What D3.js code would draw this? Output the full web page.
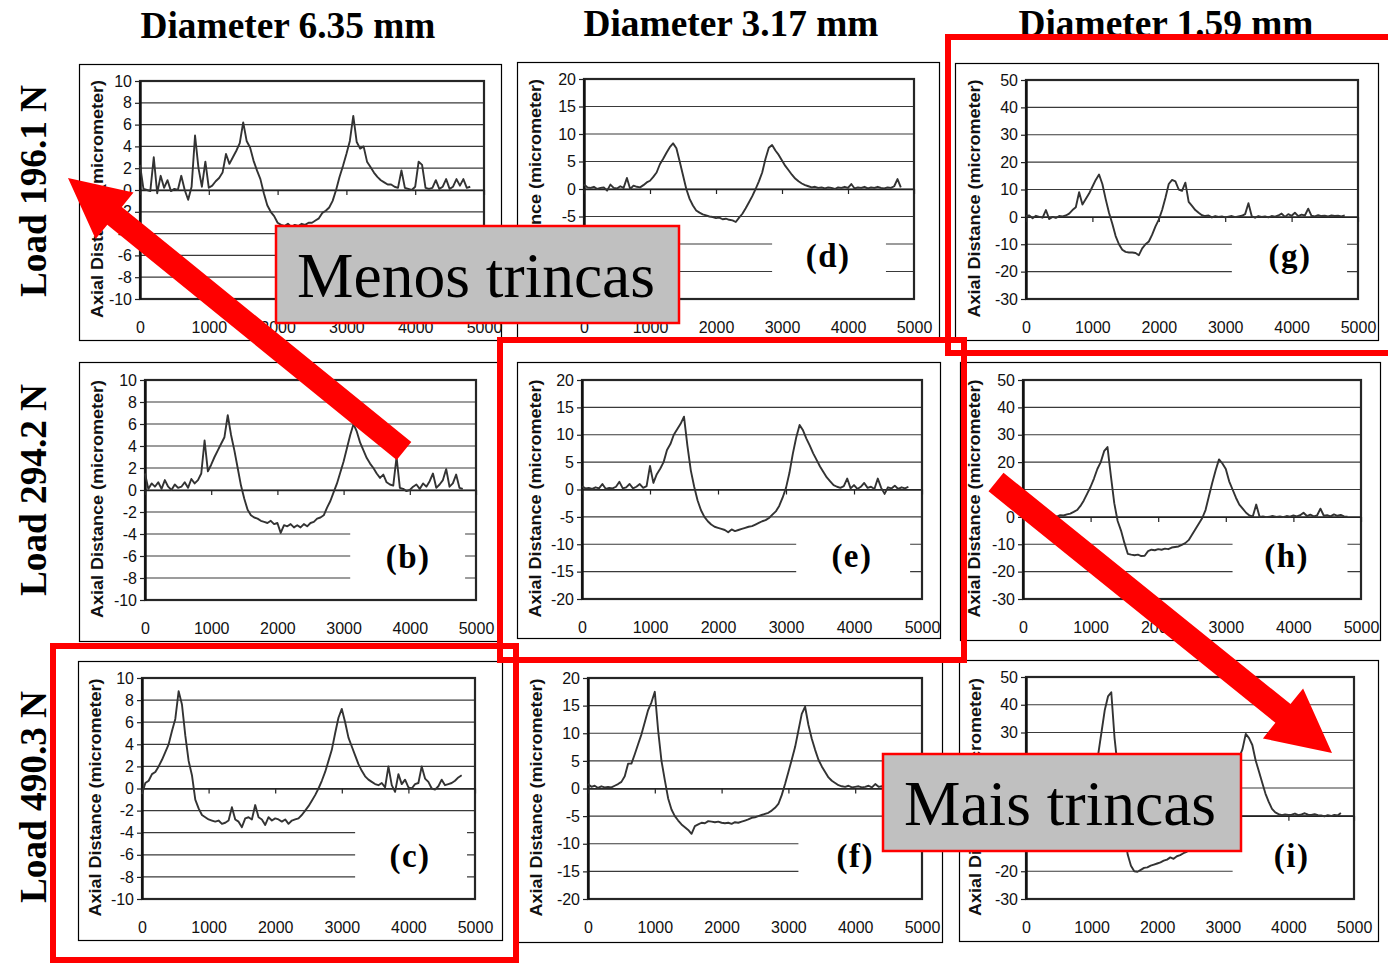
<!DOCTYPE html>
<html>
<head>
<meta charset="utf-8">
<script src="https://cdn.jsdelivr.net/npm/d3@7"></script>
<style>
  body { margin: 0; background: #fff; }
  svg { display: block; }
</style>
</head>
<body>
<svg id="fig" width="1388" height="963"></svg>
<script>
// ---------------------------------------------------------------------------
// Axial distance profiles measured along the specimen (micrometer)
// rows: applied load, columns: diameter
// ---------------------------------------------------------------------------
const diameters = ["Diameter 6.35 mm", "Diameter 3.17 mm", "Diameter 1.59 mm"];
const loads = ["Load 196.1 N", "Load 294.2 N", "Load 490.3 N"];

const xTicks = [0, 1000, 2000, 3000, 4000, 5000];
const yTicksLarge = [-10, -8, -6, -4, -2, 0, 2, 4, 6, 8, 10];
const yTicksMedium = [-20, -15, -10, -5, 0, 5, 10, 15, 20];
const yTicksSmall = [-30, -20, -10, 0, 10, 20, 30, 40, 50];

// sampling positions along the profile
const positions = [
  0, 50, 100, 150, 200, 250, 300, 350, 400, 450,
  500, 550, 600, 650, 700, 750, 800, 850, 900, 950,
  1000, 1050, 1100, 1150, 1200, 1250, 1300, 1350, 1400, 1450,
  1500, 1550, 1600, 1650, 1700, 1750, 1800, 1850, 1900, 1950,
  2000, 2050, 2100, 2150, 2200, 2250, 2300, 2350, 2400, 2450,
  2500, 2550, 2600, 2650, 2700, 2750, 2800, 2850, 2900, 2950,
  3000, 3050, 3100, 3150, 3200, 3250, 3300, 3350, 3400, 3450,
  3500, 3550, 3600, 3650, 3700, 3750, 3800, 3850, 3900, 3950,
  4000, 4050, 4100, 4150, 4200, 4250, 4300, 4350, 4400, 4450,
  4500, 4550, 4600, 4650, 4700, 4750, 4800
];

// (a) 6.35 mm, 196.1 N
const profileA = [
  2.3, 0.1, 0.0, -0.1, 3.0, -0.3, 1.3, 0.2, 0.9, -0.1,
  0.1, 0.0, 1.3, 0.0, -0.9, 0.3, 5.0, 2.0, 0.3, 2.6,
  0.2, 0.4, 0.8, 1.1, 1.6, 3.3, 2.4, 3.0, 3.6, 4.3,
  6.2, 4.5, 3.9, 2.7, 1.8, 1.0, -0.3, -1.4, -2.0, -2.4,
  -3.0, -3.2, -3.3, -3.1, -3.4, -3.2, -3.3, -3.1, -3.2, -3.0,
  -3.0, -2.8, -2.6, -2.1, -1.9, -1.6, -1.0, 0.0, 1.2, 2.2,
  3.3, 4.5, 6.8, 4.4, 3.8, 4.0, 2.6, 2.1, 1.6, 1.2,
  0.9, 0.7, 0.5, 0.5, 0.3, 0.2, 1.8, 0.2, 0.1, 0.0,
  0.3, 2.6, 2.3, 0.2, 0.1, 0.2, 0.9, 0.1, 0.3, 1.0,
  0.1, 0.3, 1.0, 0.4, 1.0, 0.2, 0.3
];
// (b) 6.35 mm, 294.2 N
const profileB = [
  1.5, 0.1, 0.6, 0.3, 0.7, 0.1, 0.9, 0.3, 0.0, 0.5,
  0.2, 0.3, 0.7, 0.2, 1.0, 0.6, 0.9, 1.5, 4.5, 1.7,
  2.3, 3.0, 3.6, 4.2, 4.8, 6.8, 5.0, 3.6, 2.0, 0.4,
  -0.8, -1.8, -2.3, -2.5, -2.6, -2.8, -2.9, -3.0, -2.8, -3.1,
  -3.0, -3.9, -3.2, -3.3, -3.1, -3.4, -3.2, -3.4, -3.1, -3.3,
  -3.0, -2.9, -2.6, -2.5, -2.3, -1.6, -1.0, -0.2, 0.6, 1.6,
  2.6, 3.8, 5.0, 6.0, 5.3, 4.3, 3.6, 2.9, 2.4, 2.0,
  1.5, 1.1, 1.4, 0.7, 0.5, 0.4, 3.0, 0.2, 0.1, -0.1,
  0.0, 0.3, 0.5, 0.1, 0.6, 0.3, 0.8, 1.5, 0.2, 0.5,
  0.9, 1.9, 0.3, 0.6, 1.4, 0.2, 0.1
];
// (c) 6.35 mm, 490.3 N
const profileC = [
  -0.5, 0.5, 0.7, 1.3, 1.5, 2.0, 2.6, 3.3, 4.0, 5.2,
  6.3, 8.8, 7.6, 4.8, 2.5, 1.2, -1.0, -1.8, -2.4, -2.6,
  -2.8, -2.9, -3.0, -2.9, -3.2, -3.1, -2.9, -1.7, -2.8, -3.0,
  -3.5, -2.7, -2.6, -2.8, -1.5, -2.6, -2.8, -3.3, -2.6, -2.9,
  -2.7, -2.8, -3.0, -2.8, -3.2, -2.9, -2.8, -2.7, -2.4, -2.0,
  -1.6, -1.1, -0.6, 0.0, 0.7, 1.5, 2.5, 3.5, 5.0, 6.4,
  7.2, 6.0, 4.6, 3.8, 3.0, 2.2, 1.6, 1.1, 0.8, 0.6,
  0.4, 0.3, 0.5, 0.1, 2.0, 0.3, -0.3, 1.3, 0.4, 0.8,
  0.1, 0.0, 0.4, 0.5, 2.0, 0.9, 0.6, 0.0, -0.1, 0.2,
  0.8, 0.3, 0.4, 0.5, 0.7, 1.0, 1.2
];
// (d) 3.17 mm, 196.1 N
const profileD = [
  0.8, 0.3, 0.2, 0.4, 0.0, 0.2, 0.3, -0.3, 0.8, 0.2,
  0.1, 0.5, 0.2, 2.0, 0.0, 0.6, 0.4, 0.3, 0.7, 1.2,
  1.5, 2.2, 3.0, 4.5, 5.5, 6.6, 7.6, 8.3, 7.4, 5.0,
  2.5, 0.0, -1.8, -3.0, -3.9, -4.3, -4.6, -4.8, -5.0, -5.1,
  -5.3, -5.2, -5.5, -5.4, -5.6, -5.7, -6.0, -5.2, -4.5, -3.5,
  -2.4, -1.3, 0.0, 1.4, 3.0, 5.5, 7.5, 8.0, 7.0, 6.2,
  5.2, 4.2, 3.4, 2.6, 1.9, 1.4, 1.0, 0.7, 0.5, 0.3,
  0.4, 0.2, 0.3, 0.1, 0.3, 0.2, 0.0, 0.3, 0.2, 0.4,
  0.2, 0.9, 0.1, 0.3, 0.2, 0.4, 0.1, 0.3, 0.2, 0.4,
  0.2, 0.1, 0.3, 0.2, 0.5, 1.8, 0.3
];
// (e) 3.17 mm, 294.2 N
const profileE = [
  0.6, 0.2, 0.3, 0.1, 0.4, 0.2, 1.0, 0.1, 0.3, 0.2,
  0.5, 1.4, 0.2, 0.4, 1.0, 0.2, 0.5, 1.0, 0.3, 0.6,
  4.3, 1.2, 2.8, 3.8, 5.0, 7.2, 8.3, 10.0, 11.0, 12.0,
  13.3, 8.0, 3.5, 0.5, -2.0, -3.8, -5.0, -5.8, -6.4, -6.8,
  -7.0, -7.2, -7.4, -7.8, -7.3, -7.6, -7.4, -7.2, -7.0, -6.8,
  -6.7, -6.4, -6.1, -5.8, -5.6, -5.2, -4.6, -4.0, -3.0, -1.5,
  0.3, 3.0, 6.5, 9.5, 11.8, 10.8, 9.3, 8.0, 6.6, 5.4,
  4.2, 3.2, 2.2, 1.5, 0.8, 0.5, 0.3, 0.6, 2.0, 0.2,
  0.8, 0.1, 0.5, 1.2, 0.3, 0.5, 0.1, 2.0, 0.3, -0.8,
  0.4, 0.2, 0.7, 0.1, 0.4, 0.2, 0.5
];
// (f) 3.17 mm, 490.3 N
const profileF = [
  0.8, 0.3, 0.5, 0.1, 0.4, 0.2, 0.3, 0.2, 0.5, 0.8,
  1.2, 2.2, 4.5, 4.5, 6.2, 8.0, 9.8, 12.0, 14.2, 15.6,
  17.5, 10.5, 5.0, 1.5, -1.8, -3.8, -5.0, -5.8, -6.5, -7.0,
  -7.5, -8.2, -6.8, -6.5, -6.2, -6.3, -5.9, -6.0, -6.1, -6.0,
  -6.2, -6.3, -6.2, -6.4, -6.1, -6.2, -6.0, -5.8, -5.6, -5.3,
  -5.2, -5.0, -4.8, -4.6, -4.4, -4.0, -3.5, -2.8, -1.2, 0.8,
  3.0, 5.2, 7.5, 10.5, 13.5, 14.8, 11.5, 9.0, 7.0, 5.2,
  4.0, 3.0, 2.0, 1.4, 1.0, 0.6, 0.4, 0.3, 0.5, 0.2,
  0.3, 0.4, 0.2, 0.3, 0.5, 0.2, 0.8, 0.3, 0.4, 0.2,
  0.3, 0.4, 0.2, 0.3, 0.3, 0.2, 0.3
];
// (g) 1.59 mm, 196.1 N
const profileG = [
  0.3, 0.5, -0.5, 0.4, 0.0, -0.3, 2.5, -0.8, 0.0, -0.4,
  0.3, 0.2, 0.5, 1.2, 2.5, 3.5, 9.0, 4.5, 6.5, 8.5,
  11.0, 13.5, 15.5, 12.0, 6.5, 1.5, -2.5, -7.0, -10.0, -12.0,
  -12.8, -13.0, -13.0, -13.2, -14.0, -11.5, -10.0, -9.0, -6.5, -3.5,
  -1.0, 2.5, 7.0, 12.0, 13.5, 13.0, 10.0, 9.5, 12.5, 5.5,
  4.0, 2.5, 1.5, 0.6, 0.3, 0.5, -0.2, 0.3, 0.0, 0.2,
  -0.2, 0.1, 0.3, -0.1, 0.2, 0.4, 1.0, 5.0, 0.2, -0.3,
  0.3, 0.0, 0.2, -0.2, 0.3, 0.1, 0.5, 1.2, 0.0, 1.0,
  0.4, 1.5, 0.3, 0.8, 0.5, 3.0, 0.4, 0.2, 0.6, 0.3,
  0.4, 0.2, 0.5, 0.3, 0.4, 0.2, 0.5
];
// (h) 1.59 mm, 294.2 N
const profileH = [
  0.2, -0.3, 0.3, 0.0, 0.4, -0.2, 0.3, 0.0, 0.2, 0.4,
  0.1, 0.6, 0.5, 0.9, 1.2, 1.8, 2.5, 4.0, 6.0, 8.5,
  11.0, 14.0, 17.5, 20.0, 24.0, 25.5, 15.0, 5.0, -1.5, -5.0,
  -9.5, -13.5, -13.8, -14.0, -13.8, -14.3, -14.2, -12.5, -12.0, -12.2,
  -11.8, -12.0, -11.6, -11.8, -11.2, -11.0, -10.8, -10.2, -9.6, -8.5,
  -6.5, -4.5, -2.5, -0.5, 2.5, 7.5, 12.5, 17.0, 21.0, 19.5,
  17.5, 13.0, 10.0, 7.0, 4.5, 3.0, 1.5, 0.5, 0.2, 4.5,
  0.0, 0.2, -0.1, 0.1, 0.3, 0.0, 0.2, -0.1, 0.3, 0.1,
  0.5, 0.2, 0.6, 1.5, 0.3, 0.8, 0.2, 0.5, 3.0, 0.4,
  0.6, 0.2, 0.9, 0.4, 0.7, 0.2, 0.1
];
// (i) 1.59 mm, 490.3 N
const profileI = [
  0.3, 0.0, 0.4, 0.2, 0.5, 0.1, 0.4, 0.3, 0.6, 0.4,
  0.8, 1.0, 1.5, 2.2, 3.0, 4.5, 6.0, 8.0, 10.5, 13.0,
  16.0, 19.0, 22.0, 30.0, 38.0, 43.0, 44.5, 28.0, 17.0, 5.0,
  -6.0, -14.0, -18.0, -20.0, -20.2, -19.5, -18.8, -18.6, -18.0, -17.6,
  -17.2, -16.8, -16.2, -15.8, -15.0, -15.5, -14.6, -14.2, -13.5, -13.0,
  -12.2, -11.4, -10.5, -9.5, -8.5, -7.2, -6.0, -4.5, -3.0, -1.0,
  1.5, 5.0, 9.0, 13.5, 17.5, 21.0, 24.0, 29.5, 28.0, 25.5,
  20.0, 16.0, 12.0, 8.0, 5.0, 2.5, 1.2, 0.6, 0.2, 0.5,
  0.3, 0.4, 0.8, 0.2, 0.5, 0.9, 0.4, 0.3, 0.6, 0.2,
  0.1, -0.2, 0.2, -0.1, 0.3, 0.1, 1.0
];

const panelTags = ["(a)", "(b)", "(c)", "(d)", "(e)", "(f)", "(g)", "(h)", "(i)"];
const panelProfiles = [profileA, profileB, profileC, profileD, profileE, profileF, profileG, profileH, profileI];
const columnTicks = [yTicksLarge, yTicksMedium, yTicksSmall];

const calloutFewer = "Menos trincas";
const calloutMore = "Mais trincas";
const axisTitle = "Axial Distance (micrometer)";

// ---------------------------------------------------------------------------
// Page layout (pixels) for each panel: outer frame, plot area, y-title gap,
// tag box [left, right, text centre] as fractions of the plot width
// ---------------------------------------------------------------------------
const layout = [
  { box: [79, 64, 501, 340],   plot: [140, 484, 81, 299],   gap: 37, tagBox: [0.62, 0.97, 0.80] },
  { box: [79, 362, 500, 641],  plot: [145, 476, 380, 600],  gap: 42, tagBox: [0.62, 0.967, 0.795] },
  { box: [78, 661, 502, 940],  plot: [142, 475, 678, 899],  gap: 41, tagBox: [0.64, 0.976, 0.805] },
  { box: [517, 62, 939, 340],  plot: [584, 914, 79, 299],   gap: 43, tagBox: [0.57, 0.915, 0.74] },
  { box: [517, 362, 940, 638], plot: [582, 922, 380, 599],  gap: 41, tagBox: [0.63, 0.965, 0.794] },
  { box: [517, 660, 942, 942], plot: [588, 922, 678, 899],  gap: 46, tagBox: [0.63, 1.0, 0.80] },
  { box: [955, 63, 1378, 340], plot: [1026, 1358, 80, 299], gap: 46, tagBox: [0.62, 0.967, 0.795] },
  { box: [960, 362, 1380, 640],plot: [1023, 1361, 380, 599],gap: 43, tagBox: [0.62, 0.96, 0.78] },
  { box: [959, 660, 1378, 941],plot: [1026, 1354, 677, 899],gap: 45, tagBox: [0.63, 0.997, 0.81] }
];

const SANS = "'Liberation Sans', Arial, sans-serif";
const SERIF = "'Liberation Serif', 'Times New Roman', serif";

const svg = d3.select("#fig");
svg.append("rect").attr("width", 1388).attr("height", 963).attr("fill", "#fff");

function drawPanel(idx) {
  const lay = layout[idx];
  const col = Math.floor(idx / 3);
  const ticks = columnTicks[col];
  const values = panelProfiles[idx];
  const [bx0, by0, bx1, by1] = lay.box;
  const [px0, px1, py0, py1] = lay.plot;
  const W = px1 - px0, H = py1 - py0;

  const x = d3.scaleLinear().domain([xTicks[0], xTicks[xTicks.length - 1]]).range([px0, px1]);
  const y = d3.scaleLinear().domain(d3.extent(ticks)).range([py1, py0]);

  const g = svg.append("g").attr("class", "panel");

  // chart frame
  g.append("rect")
    .attr("x", bx0 + 0.5).attr("y", by0 + 0.5)
    .attr("width", bx1 - bx0).attr("height", by1 - by0)
    .attr("fill", "#fff").attr("stroke", "#000").attr("stroke-width", 1.2);

  // horizontal gridlines
  g.append("g").selectAll("line").data(ticks).join("line")
    .attr("x1", px0).attr("x2", px1)
    .attr("y1", d => y(d)).attr("y2", d => y(d))
    .attr("stroke", "#3a3a3a").attr("stroke-width", 1.2);

  // panel tag on a white patch
  const [tl, tr, tc] = lay.tagBox;
  g.append("rect")
    .attr("x", px0 + tl * W).attr("y", py0 + 0.665 * H)
    .attr("width", (tr - tl) * W).attr("height", 0.3 * H)
    .attr("fill", "#fff");
  g.append("text")
    .attr("x", px0 + tc * W).attr("y", py0 + 0.855 * H)
    .attr("text-anchor", "middle")
    .attr("font-family", SERIF).attr("font-weight", "bold")
    .attr("font-size", 33).attr("letter-spacing", 1.5)
    .attr("fill", "#000")
    .text(panelTags[idx]);

  // plot-area border
  g.append("rect")
    .attr("x", px0).attr("y", py0).attr("width", W).attr("height", H)
    .attr("fill", "none").attr("stroke", "#262626").attr("stroke-width", 2.2);

  // y axis
  const yAxis = d3.axisLeft(y).tickValues(ticks).tickSize(5).tickSizeOuter(0)
    .tickPadding(3).tickFormat(d => String(d));
  const ya = g.append("g").attr("transform", `translate(${px0},0)`).call(yAxis);
  ya.attr("font-family", null).attr("font-size", null);
  ya.select(".domain").attr("stroke", "#111").attr("stroke-width", 2.4);
  ya.selectAll(".tick line").attr("stroke", "#222").attr("stroke-width", 1.2);
  ya.selectAll(".tick text").attr("font-family", SANS).attr("font-size", 16).attr("fill", "#111");

  // axis line at zero with tick marks
  const zeroAxis = d3.axisBottom(x).tickValues(xTicks).tickSize(5).tickSizeOuter(0).tickFormat("");
  const za = g.append("g").attr("transform", `translate(0,${y(0)})`).call(zeroAxis);
  za.select(".domain").attr("stroke", "#222").attr("stroke-width", 1.4);
  za.selectAll(".tick line").attr("stroke", "#222").attr("stroke-width", 1.2);

  // x tick labels under the plot area
  const xLabels = d3.axisBottom(x).tickValues(xTicks).tickSize(0).tickPadding(22.6).tickFormat(d => String(d));
  const xl = g.append("g").attr("transform", `translate(0,${py1})`).call(xLabels);
  xl.attr("font-family", null).attr("font-size", null);
  xl.select(".domain").remove();
  xl.selectAll(".tick text").attr("font-family", SANS).attr("font-size", 16).attr("fill", "#111");

  // y title
  g.append("text")
    .attr("transform", `translate(${px0 - lay.gap},${(py0 + py1) / 2 + 9}) rotate(-90)`)
    .attr("text-anchor", "middle")
    .attr("font-family", SANS).attr("font-weight", "bold").attr("font-size", 16)
    .attr("textLength", 238).attr("lengthAdjust", "spacingAndGlyphs")
    .attr("fill", "#111")
    .text(axisTitle);

  // measured profile
  const line = d3.line()
    .x((d, i) => x(positions[i]))
    .y(d => y(d));
  g.append("path")
    .datum(values)
    .attr("d", line)
    .attr("fill", "none")
    .attr("stroke", "#333")
    .attr("stroke-width", 1.9)
    .attr("stroke-linejoin", "round");
}

for (let i = 0; i < 9; i++) drawPanel(i);

// column headers
const headerX = [288, 731, 1166];
const headerY = [38, 36, 36];
svg.selectAll("text.colhead").data(diameters).join("text")
  .attr("class", "colhead")
  .attr("x", (d, i) => headerX[i]).attr("y", (d, i) => headerY[i])
  .attr("text-anchor", "middle")
  .attr("font-family", SERIF).attr("font-weight", "bold").attr("font-size", 37)
  .attr("textLength", 295).attr("lengthAdjust", "spacingAndGlyphs")
  .attr("fill", "#000")
  .text(d => d);

// row headers
const rowY = [191, 490, 797];
svg.selectAll("text.rowhead").data(loads).join("text")
  .attr("class", "rowhead")
  .attr("transform", (d, i) => `translate(46,${rowY[i]}) rotate(-90)`)
  .attr("text-anchor", "middle")
  .attr("font-family", SERIF).attr("font-weight", "bold").attr("font-size", 37)
  .attr("textLength", 212).attr("lengthAdjust", "spacingAndGlyphs")
  .attr("fill", "#000")
  .text(d => d);

// red highlight frames
const RED = "#ff0000";
const frames = [
  [948, 37, 1396, 353],
  [500, 340, 964, 660],
  [53, 646, 516, 960]
];
svg.selectAll("rect.frame").data(frames).join("rect")
  .attr("class", "frame")
  .attr("x", d => d[0]).attr("y", d => d[1])
  .attr("width", d => d[2] - d[0]).attr("height", d => d[3] - d[1])
  .attr("fill", "none").attr("stroke", RED).attr("stroke-width", 6);

// block arrows
function arrowPath(tip, tail, shaft, headLen, headHalf) {
  const dx = tail[0] - tip[0], dy = tail[1] - tip[1];
  const len = Math.hypot(dx, dy);
  const ux = dx / len, uy = dy / len;
  const nx = uy, ny = -ux;
  const bx = tip[0] + ux * headLen, by = tip[1] + uy * headLen;
  const s = shaft / 2;
  const pts = [
    tip,
    [bx + nx * headHalf, by + ny * headHalf],
    [bx + nx * s, by + ny * s],
    [tail[0] + nx * s, tail[1] + ny * s],
    [tail[0] - nx * s, tail[1] - ny * s],
    [bx - nx * s, by - ny * s],
    [bx - nx * headHalf, by - ny * headHalf]
  ];
  return "M" + pts.map(p => p[0].toFixed(1) + "," + p[1].toFixed(1)).join("L") + "Z";
}
svg.append("path").attr("d", arrowPath([68, 178], [404, 451], 23, 60, 30)).attr("fill", RED);
svg.append("path").attr("d", arrowPath([1332, 753], [996, 482], 24, 63, 32)).attr("fill", RED);

// call-out boxes
const callouts = [
  { text: calloutFewer, box: [276, 226, 679, 323], cx: 476, base: 297 },
  { text: calloutMore, box: [883, 754, 1241, 851], cx: 1060, base: 825 }
];
callouts.forEach(c => {
  svg.append("rect")
    .attr("x", c.box[0]).attr("y", c.box[1])
    .attr("width", c.box[2] - c.box[0]).attr("height", c.box[3] - c.box[1])
    .attr("fill", "#c0c0c0").attr("stroke", RED).attr("stroke-width", 2.5);
  svg.append("text")
    .attr("x", c.cx).attr("y", c.base)
    .attr("text-anchor", "middle")
    .attr("font-family", SERIF).attr("font-size", 63.5)
    .attr("fill", "#000")
    .text(c.text);
});
</script>
</body>
</html>
